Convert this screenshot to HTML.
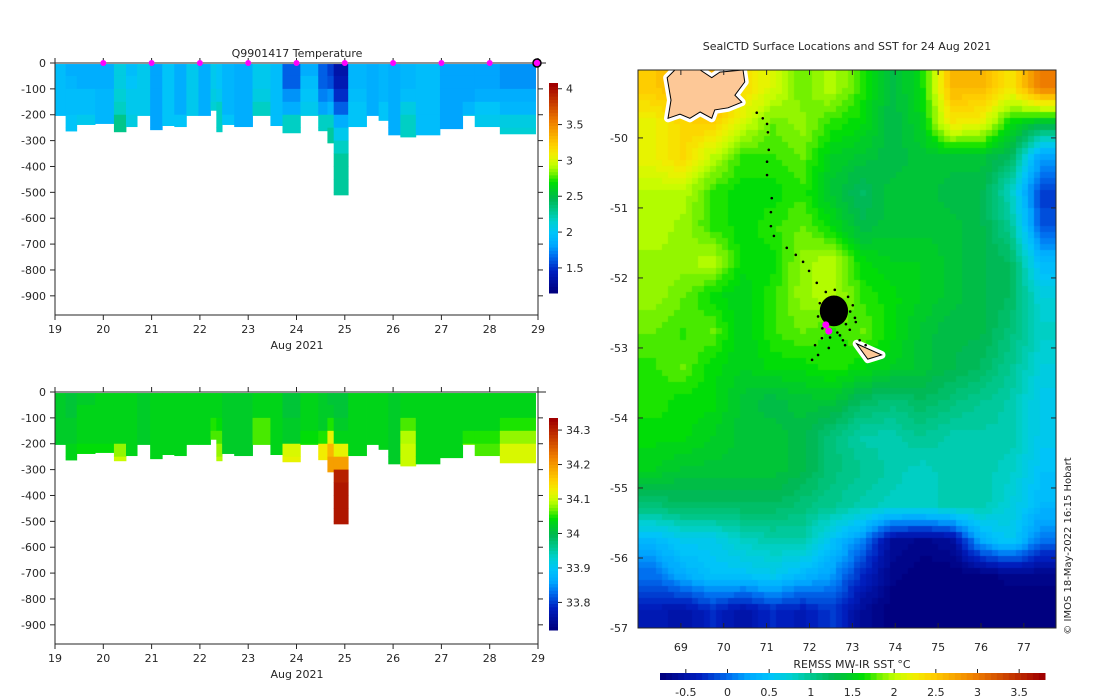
<!DOCTYPE html>
<html><head><meta charset="utf-8"><style>
html,body{margin:0;padding:0;background:#fff;}
#wrap{position:relative;width:1100px;height:700px;overflow:hidden;font-family:"Liberation Sans","DejaVu Sans",sans-serif;}
canvas,svg{position:absolute;left:0;top:0;}
text{font-family:"DejaVu Sans","Liberation Sans",sans-serif;font-size:11px;fill:#262626;}
</style></head><body>
<div id="wrap">
<canvas id="mapc" width="1100" height="700"></canvas>
<svg id="svg" width="1100" height="700" xmlns="http://www.w3.org/2000/svg"></svg>
</div>
<script>
// ---------- profile data ----------
const profStart = [19.0,19.22,19.45,19.83,20.22,20.47,20.70,20.97,21.22,21.47,21.72,21.97,22.22,22.34,22.46,22.71,23.09,23.46,23.71,24.08,24.45,24.64,24.77,25.07,25.45,25.70,25.90,26.15,26.47,26.97,27.44,27.69,28.21];
const profEnd = 28.95;
const profDepth = [203,263,238,234,266,246,203,258,242,246,203,203,183,266,238,246,203,242,270,203,262,309,510,246,203,222,278,286,278,254,203,246,274];
const binSize = 50;
const tempBins = [
[1.95,1.95,1.95,1.95,1.95],[1.85,1.9,1.95,1.95,2.0,2.0],[1.85,1.85,1.95,1.95,2.05],[1.85,1.85,1.9,1.9,1.9],
[2.1,2.1,2.15,2.2,2.3,2.3],[1.95,2.0,2.05,2.05,2.1],[2.05,2.05,2.05,2.05,2.05],[1.8,1.8,1.8,1.8,1.8,1.8],
[2.0,2.0,2.0,2.0,2.0],[1.85,1.85,1.85,1.85,2.0],[2.05,2.05,2.05,2.05,2.05],[1.85,1.85,1.85,1.85,1.85],
[2.05,2.05,2.1,2.15],[2.0,2.0,2.05,2.2,2.2,2.2],[1.9,1.9,1.9,1.9,2.0],[1.85,1.85,1.85,1.85,1.85],
[2.05,2.05,2.1,2.2,2.2],[1.95,1.95,1.95,1.95,1.95],[1.65,1.65,1.75,1.85,2.2,2.2],[1.85,1.95,2.0,2.05,2.1],
[1.65,1.65,1.7,1.8,2.2,2.2],[1.55,1.6,1.75,1.9,2.2,2.25,2.25],[1.35,1.4,1.5,1.65,1.85,2.05,2.2,2.25,2.25,2.25,2.25],
[1.9,1.9,1.95,2.0,2.0],[1.85,1.85,1.85,1.85,1.85],[1.9,1.9,1.9,2.0,2.0],[1.85,1.85,1.85,1.85,1.85,1.85],
[1.9,1.9,1.95,2.1,2.2,2.2],[1.95,1.95,1.95,1.95,1.95,1.95],[1.8,1.8,1.8,1.8,1.8,1.8],[1.8,1.8,1.8,1.9,2.05],
[1.8,1.8,1.85,2.0,2.05],[1.75,1.75,1.85,1.9,2.1,2.15]];
const salBins = [
[34.02,34.02,34.02,34.02,34.02],[34.01,34.01,34.02,34.02,34.03,34.03],[34.02,34.03,34.03,34.03,34.04],[34.03,34.03,34.03,34.03,34.04],
[34.03,34.03,34.03,34.03,34.08,34.1],[34.03,34.03,34.03,34.03,34.03],[34.02,34.02,34.02,34.02,34.02],[34.03,34.03,34.03,34.03,34.03,34.03],
[34.03,34.03,34.03,34.03,34.03],[34.03,34.03,34.03,34.03,34.03],[34.03,34.03,34.03,34.03,34.03],[34.03,34.03,34.03,34.03,34.03],
[34.03,34.03,34.05,34.06],[34.03,34.03,34.04,34.06,34.08,34.09],[34.02,34.02,34.02,34.02,34.02],[34.02,34.02,34.02,34.02,34.02],
[34.03,34.03,34.06,34.06,34.06],[34.03,34.03,34.03,34.03,34.03],[34.01,34.01,34.02,34.02,34.11,34.12],[34.03,34.03,34.03,34.04,34.05],
[34.02,34.02,34.02,34.05,34.13,34.13],[34.01,34.02,34.05,34.12,34.18,34.2,34.2],[34.01,34.01,34.02,34.03,34.12,34.2,34.3,34.31,34.31,34.31,34.31],
[34.03,34.03,34.03,34.03,34.03],[34.03,34.03,34.03,34.03,34.03],[34.03,34.03,34.03,34.03,34.03],[34.02,34.02,34.02,34.02,34.02,34.02],
[34.03,34.03,34.06,34.09,34.1,34.1],[34.03,34.03,34.03,34.03,34.03,34.03],[34.03,34.03,34.03,34.03,34.03,34.03],[34.03,34.03,34.03,34.05,34.07],
[34.03,34.03,34.03,34.05,34.06],[34.03,34.03,34.05,34.08,34.11,34.11]];
const markerDays = [20,21,22,23,24,25,26,27,28];
const lastMarkerDay = 29;
const dayTicks = [19,20,21,22,23,24,25,26,27,28,29];
const depthTicks = [0,-100,-200,-300,-400,-500,-600,-700,-800,-900];
const tempTicks = [1.5,2,2.5,3,3.5,4];
const salTicks = [33.8,33.9,34,34.1,34.2,34.3];
const tempRange = [1.15,4.08];
const salRange = [33.72,34.335];

// ---------- map data ----------
const sstGrid = [
[2.5,2.6,2.6,2.4,2.1,1.8,2.0,1.7,1.3,1.6,2.6,2.6,2.3,3.0],
[2.2,2.4,2.5,2.1,1.8,1.9,1.7,1.6,1.3,1.5,2.3,2.2,1.6,1.4],
[2.2,2.4,2.0,1.7,1.7,1.8,1.5,1.4,1.3,1.4,1.4,1.4,1.2,0.2],
[2.0,2.0,1.7,1.6,1.6,1.7,1.4,1.2,1.4,1.4,1.3,1.3,0.8,-0.2],
[2.0,1.9,1.7,1.6,1.7,1.8,1.6,1.3,1.4,1.4,1.4,1.3,1.0,-0.1],
[1.9,1.9,2.0,1.6,1.6,1.9,2.0,1.6,1.5,1.5,1.4,1.3,1.2,0.4],
[1.9,1.8,1.6,1.5,1.7,1.9,2.0,1.7,1.6,1.5,1.4,1.3,1.2,0.7],
[1.8,1.7,1.8,1.5,1.7,1.8,1.7,1.8,1.6,1.4,1.3,1.3,1.1,0.8],
[1.7,1.8,1.6,1.5,1.6,1.6,1.7,1.6,1.5,1.4,1.3,1.2,1.0,0.7],
[1.7,1.6,1.6,1.4,1.3,1.4,1.4,1.2,1.1,1.2,1.1,1.0,0.9,0.6],
[1.6,1.6,1.5,1.4,1.4,1.3,1.1,0.9,0.9,1.0,0.9,0.9,0.9,0.6],
[1.5,1.4,1.4,1.4,1.4,1.3,1.1,1.0,0.9,0.8,0.9,0.9,0.8,0.5],
[1.1,1.2,1.2,1.2,1.2,1.1,1.0,0.9,0.8,0.8,0.9,0.9,0.7,0.4],
[0.4,0.6,0.6,0.8,0.9,0.9,0.5,0.1,-0.6,-0.7,-0.6,0.3,0.6,0.0],
[0.0,0.3,0.5,0.5,0.6,0.4,0.2,-0.3,-0.7,-0.8,-0.8,-0.8,-0.7,-0.7],
[-0.4,-0.5,-0.3,-0.5,-0.3,-0.4,-0.2,-0.6,-0.8,-0.8,-0.8,-0.8,-0.8,-0.8]];
const lonTicks = [69,70,71,72,73,74,75,76,77];
const latTicks = [-50,-51,-52,-53,-54,-55,-56,-57];
const sstTicks = [-0.5,0,0.5,1,1.5,2,2.5,3,3.5];
const sstRange = [-0.81,3.81];
const kergLon = [68.68,68.86,69.45,69.72,69.91,70.45,70.49,70.26,70.42,70.10,69.79,69.72,69.45,69.21,68.98,68.70,68.77];
const kergLat = [-49.14,-49.03,-49.03,-49.14,-49.06,-49.03,-49.20,-49.39,-49.49,-49.57,-49.60,-49.72,-49.63,-49.72,-49.66,-49.72,-49.46];
const heardLon = [73.10,73.68,73.36];
const heardLat = [-52.94,-53.10,-53.16];
const trackLon = [70.77,70.91,71.01,71.03,71.05,71.01,71.01,71.12,71.10,71.10,71.17,71.47,71.68,71.85,71.99,72.17,72.24,72.90,73.06,72.94,72.71,72.29,72.13,72.20,72.06,72.83,73.17,73.31,73.08,72.38,72.59,72.78,72.45,73.01,72.95,72.20,72.30,72.85,72.65,72.48];
const trackLat = [-49.64,-49.72,-49.80,-49.92,-50.17,-50.34,-50.53,-50.86,-51.06,-51.26,-51.40,-51.57,-51.67,-51.77,-51.90,-52.07,-52.36,-52.27,-52.57,-52.74,-52.82,-52.86,-52.96,-53.10,-53.17,-52.96,-52.89,-52.96,-52.63,-52.20,-52.17,-52.89,-53.00,-52.39,-52.48,-52.55,-52.72,-52.66,-52.78,-52.85];
const clusterCenter = [72.57,-52.47];
const clusterSize = [0.33,0.22];
const latestLon = [72.38,72.45];
const latestLat = [-52.67,-52.76];

// ---------- colormap ----------
const stops=[[0,[0,0,128]],[0.1,[0,32,192]],[0.175,[0,112,240]],[0.225,[0,168,255]],[0.285,[0,196,250]],[0.34,[0,208,208]],[0.39,[0,200,144]],[0.45,[0,184,80]],[0.5,[0,208,32]],[0.53,[0,224,0]],[0.57,[112,240,0]],[0.61,[192,255,0]],[0.66,[240,240,0]],[0.71,[255,208,0]],[0.82,[240,128,0]],[0.93,[192,48,0]],[1,[160,0,0]]];
function cmapRGB(f){f=Math.max(0,Math.min(1,f));f=Math.min(63,Math.floor(f*64))/63;
 for(let i=1;i<stops.length;i++){if(f<=stops[i][0]){const a=stops[i-1],b=stops[i];const t=(f-a[0])/(b[0]-a[0]);
 return a[1].map((v,k)=>Math.round(v+(b[1][k]-v)*t));}}return stops[stops.length-1][1];}
function cmap(v,r){const c=cmapRGB((v-r[0])/(r[1]-r[0]));return `rgb(${c[0]},${c[1]},${c[2]})`;}

const NS='http://www.w3.org/2000/svg';
const svg=document.getElementById('svg');
function el(tag,attrs,parent){const e=document.createElementNS(NS,tag);for(const k in attrs)e.setAttribute(k,attrs[k]);(parent||svg).appendChild(e);return e;}
function txt(x,y,s,anchor,parent){const t=el('text',{x:x,y:y,'text-anchor':anchor||'middle'},parent);t.textContent=s;return t;}

// ---------- profile panels ----------
function panel(cfg){
 const g=el('g',{});
 
 
 const X0=55,X1=538;
 const xs=d=>X0+(d-19)/10*(X1-X0);
 const ys=dep=>cfg.y0+dep*0.2587;
 for(let i=0;i<profStart.length;i++){
  const xa=xs(profStart[i]), xb=xs(i+1<profStart.length?profStart[i+1]:profEnd);
  const bins=cfg.bins[i];
  for(let j=0;j<bins.length;j++){
   const d0=j*binSize+(j==0?4:0), d1=Math.min((j+1)*binSize,profDepth[i]);
   if(d1<=d0)continue;
   const r=el('rect',{x:xa,y:ys(d0),width:xb-xa+0.4,height:ys(d1)-ys(d0)+0.4,fill:cmap(bins[j],cfg.range)},g);
   
   
  }
 }
 const yb=cfg.y0+252;
 el('rect',{x:X0,y:cfg.y0,width:X1-X0,height:yb-cfg.y0,fill:'none',stroke:'#262626','stroke-width':1},g);
 el('line',{x1:X0,y1:cfg.y0,x2:X1+8,y2:cfg.y0,stroke:'#262626'},g);
 dayTicks.forEach(d=>{const x=xs(d);el('line',{x1:x,y1:yb,x2:x,y2:yb+5,stroke:'#262626'},g);el('line',{x1:x,y1:cfg.y0,x2:x,y2:cfg.y0-5,stroke:'#262626'},g);
  const t=txt(x,yb+18,String(d),'middle',g);});
 const xl=txt(297,yb+34,'Aug 2021','middle',g);
 
 
 depthTicks.forEach(v=>{const y=ys(-v);el('line',{x1:X0-5,y1:y,x2:X0,y2:y,stroke:'#262626'},g);el('line',{x1:X1,y1:y,x2:X1+5,y2:y,stroke:'#262626'},g);
  const t=txt(X0-9,y+4,String(v),'end',g);});
 const cb=el('g',{},g);
 
 
 const n=64,h=cfg.cbBot-cfg.cbTop;
 for(let k=0;k<n;k++){const v=cfg.range[0]+(k+0.5)/n*(cfg.range[1]-cfg.range[0]);
  el('rect',{x:549,y:cfg.cbBot-(k+1)*h/n,width:9,height:h/n+0.5,fill:cmap(v,cfg.range)},cb);}
 cfg.ticks.forEach(v=>{const y=cfg.cbBot-(v-cfg.range[0])/(cfg.range[1]-cfg.range[0])*h;
  el('line',{x1:558,y1:y,x2:562,y2:y,stroke:'#262626'},cb);txt(566,y+4,String(v),'start',cb);});
 return {g:g,xs:xs};
}
const topPanel=panel({name:'temperature-panel',y0:63,bins:tempBins,range:tempRange,cbTop:83,cbBot:293,ticks:tempTicks});
const ttl=txt(297,57,'Q9901417  Temperature');


markerDays.forEach(d=>{const c=el('circle',{cx:topPanel.xs(d),cy:63,r:3,fill:'#ff00ff'});
 
 });
const lm=el('circle',{cx:topPanel.xs(lastMarkerDay)-1,cy:63,r:4,fill:'#ff00ff',stroke:'#000','stroke-width':1.5});


panel({name:'salinity-panel',y0:392,bins:salBins,range:salRange,cbTop:418,cbBot:630,ticks:salTicks});

// ---------- map ----------
const MX0=638,MX1=1056,MY0=70,MY1=628;
const LON0=68,LON1=77.75,LAT0=-49.03,LAT1=-57.0;
const lx=l=>MX0+(l-LON0)/(LON1-LON0)*(MX1-MX0);
const ly=l=>MY0+(l-LAT0)/(LAT1-LAT0)*(MY1-MY0);
(function(){
 const ctx=document.getElementById('mapc').getContext('2d');
 const R=sstGrid.length,C=sstGrid[0].length,cw=(MX1-MX0)/C,ch=(MY1-MY0)/R,s=6;
 for(let py=MY0;py<MY1;py+=s)for(let px=MX0;px<MX1;px+=s){
  let fx=(px+s/2-MX0)/cw-0.5, fy=(py+s/2-MY0)/ch-0.5;
  fx=Math.max(0,Math.min(C-1,fx));fy=Math.max(0,Math.min(R-1,fy));
  const i0=Math.floor(fy),j0=Math.floor(fx),i1=Math.min(R-1,i0+1),j1=Math.min(C-1,j0+1),ty=fy-i0,tx=fx-j0;
  const v=(sstGrid[i0][j0]*(1-tx)+sstGrid[i0][j1]*tx)*(1-ty)+(sstGrid[i1][j0]*(1-tx)+sstGrid[i1][j1]*tx)*ty;
  ctx.fillStyle=cmap(v,sstRange);ctx.fillRect(px,py,Math.min(s,MX1-px),Math.min(s,MY1-py));
 }
})();
const mg=el('g',{});


function poly(lons,lats,name){
 const pts=lons.map((l,i)=>lx(l)+','+ly(lats[i])).join(' ');
 el('polygon',{points:pts,fill:'#fff',stroke:'#fff','stroke-width':8,'stroke-linejoin':'round'},mg);
 const p=el('polygon',{points:pts,fill:'#fdc897',stroke:'#000','stroke-width':1},mg);
 
 
}
poly(kergLon,kergLat,'kerguelen-land');
poly(heardLon,heardLat,'heard-island-land');
const cl=el('ellipse',{cx:lx(clusterCenter[0]),cy:ly(clusterCenter[1]),rx:(lx(clusterCenter[0]+clusterSize[0])-lx(clusterCenter[0])),ry:(ly(clusterCenter[1]-clusterSize[1])-ly(clusterCenter[1])),fill:'#000'},mg);


trackLon.forEach((l,i)=>{const c=el('circle',{cx:lx(l),cy:ly(trackLat[i]),r:1.3,fill:'#000'},mg);
 
 });
latestLon.forEach((l,i)=>{const c=el('circle',{cx:lx(l),cy:ly(latestLat[i]),r:3.5,fill:'#ff00ff'},mg);
 
 });
el('rect',{x:MX0,y:MY0,width:MX1-MX0,height:MY1-MY0,fill:'none',stroke:'#262626'},mg);
lonTicks.forEach(l=>{const x=lx(l);el('line',{x1:x,y1:MY1,x2:x,y2:MY1-5,stroke:'#262626'},mg);el('line',{x1:x,y1:MY0,x2:x,y2:MY0+5,stroke:'#262626'},mg);
 const t=txt(x,651,String(l),'middle',mg);});
latTicks.forEach(l=>{const y=ly(l);el('line',{x1:MX0,y1:y,x2:MX0+5,y2:y,stroke:'#262626'},mg);el('line',{x1:MX1,y1:y,x2:MX1-5,y2:y,stroke:'#262626'},mg);
 const t=txt(628,y+4,String(l),'end',mg);});
const mt=txt(847,50,'SealCTD Surface Locations and SST for 24 Aug 2021');


const cr=el('text',{x:0,y:0,'text-anchor':'middle',transform:'translate(1071,546) rotate(-90)',style:'font-size:10px'});
cr.textContent='© IMOS 18-May-2022 16:15 Hobart';


const hcb=el('g',{});


(function(){const x0=660,x1=1045,n=64,w=(x1-x0)/n;
 for(let k=0;k<n;k++){const v=sstRange[0]+(k+0.5)/n*(sstRange[1]-sstRange[0]);
  el('rect',{x:x0+k*w,y:673,width:w+0.5,height:7,fill:cmap(v,sstRange)},hcb);}
 sstTicks.forEach(v=>{const x=x0+(v-sstRange[0])/(sstRange[1]-sstRange[0])*(x1-x0);
  el('line',{x1:x,y1:669,x2:x,y2:673,stroke:'#262626'},hcb);txt(x,696,String(v),'middle',hcb);});
 txt(852,668,'REMSS MW-IR SST °C','middle',hcb);
})();
</script>
</body></html>
